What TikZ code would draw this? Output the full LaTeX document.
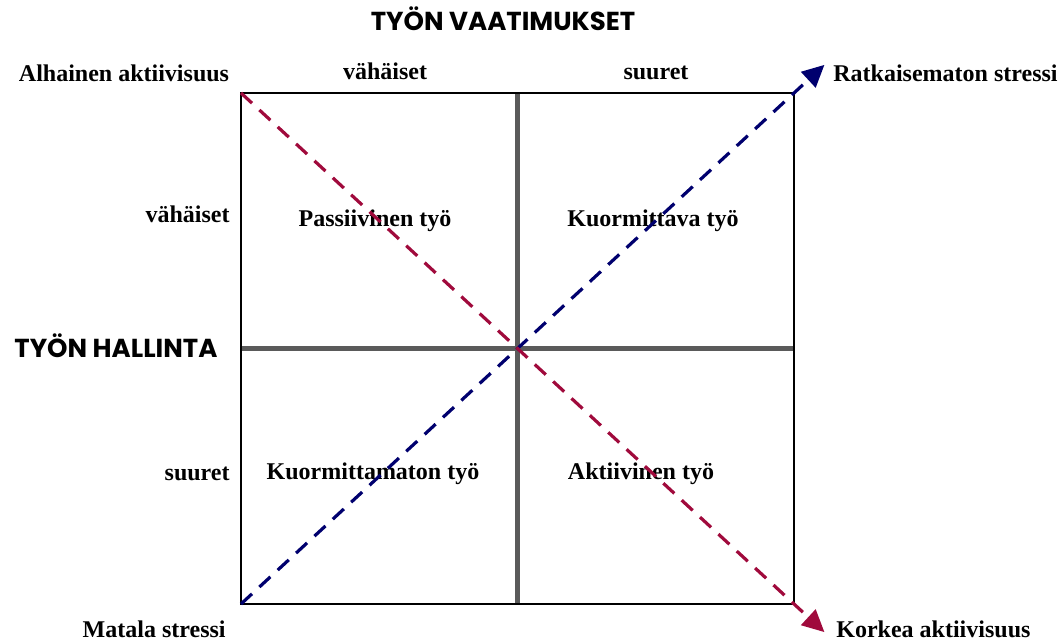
\documentclass[tikz,border=0pt]{standalone}
\usepackage{fontspec}
\setmainfont{Liberation Serif}
\newfontfamily\headfont{Poppins}
\usetikzlibrary{arrows.meta,positioning,calc}
\definecolor{stressblue}{RGB}{0,0,110}
\definecolor{activered}{RGB}{160,10,60}
\definecolor{axisgray}{RGB}{90,90,90}

\begin{document}
\begin{tikzpicture}[
        x=0.5pt, y=-0.5pt,
        lbl/.style={font=\fontsize{12}{14}\selectfont\bfseries, inner sep=0pt, anchor=base},
        head/.style={font=\fontsize{13}{15}\selectfont\headfont\bfseries, inner sep=0pt, anchor=base},
        diag/.style={dash pattern=on 7.5pt off 5pt, line width=1.6pt, -{Triangle[length=11pt,width=10.5pt]}},
        axis/.style={axisgray, line width=2.3pt}
    ]
        \useasboundingbox (0,0) rectangle (1062,641);

        % ruudukko
        \coordinate (nw) at (241,93);
        \coordinate (se) at (794,604);
        \coordinate (sw) at (nw |- se);
        \coordinate (ne) at (se |- nw);
        \coordinate (keski) at ($(nw)!0.5!(se)$);
        \coordinate (ylakeski) at (keski |- nw);
        \coordinate (alakeski) at (keski |- se);
        \coordinate (vasenkeski) at (nw |- keski);
        \coordinate (oikeakeski) at (se |- keski);
        \draw[axis] (ylakeski) -- (alakeski);
        \draw[axis] (vasenkeski) -- (oikeakeski);
        \draw[line width=1pt] (nw) rectangle (se);

        % otsikot
        \node[head] (vaatimukset) at (503,31) {TYÖN VAATIMUKSET};
        \node[head, anchor=base west] (hallinta) at (14,358) {TYÖN HALLINTA};

        \node[lbl] (vahaisetY) at (385,80) {vähäiset};
        \node[lbl] (suuretY) at (656,80) {suuret};
        \node[lbl, anchor=base east] (vahaisetV) at (230,223) {vähäiset};
        \node[lbl, anchor=base east] (suuretV) at (230,481) {suuret};

        \node[lbl] (alhainen) at (124,82) {Alhainen aktiivisuus};
        \node[lbl, anchor=base west] (ratkaisematon) at (833,82) {Ratkaisematon stressi};
        \node[lbl, anchor=base east] (matala) at (226,638) {Matala stressi};
        \node[lbl, anchor=base west] (korkea) at (836,638) {Korkea aktiivisuus};

        % nelikentät
        \node[lbl] (passiivinen) at (375,227) {Passiivinen työ};
        \node[lbl] (kuormittava) at (653,227) {Kuormittava työ};
        \node[lbl] (kuormittamaton) at (373,480) {Kuormittamaton työ};
        \node[lbl] (aktiivinen) at (641,480) {Aktiivinen työ};

        % nuolet
        \coordinate (karki1) at ($(sw)!1.055!(ne)$);
        \coordinate (karki2) at ($(nw)!1.055!(se)$);
        \draw[diag, stressblue] (sw) -- (karki1);
        \draw[diag, activered] (nw) -- (karki2);
    \end{tikzpicture}
\end{document}
